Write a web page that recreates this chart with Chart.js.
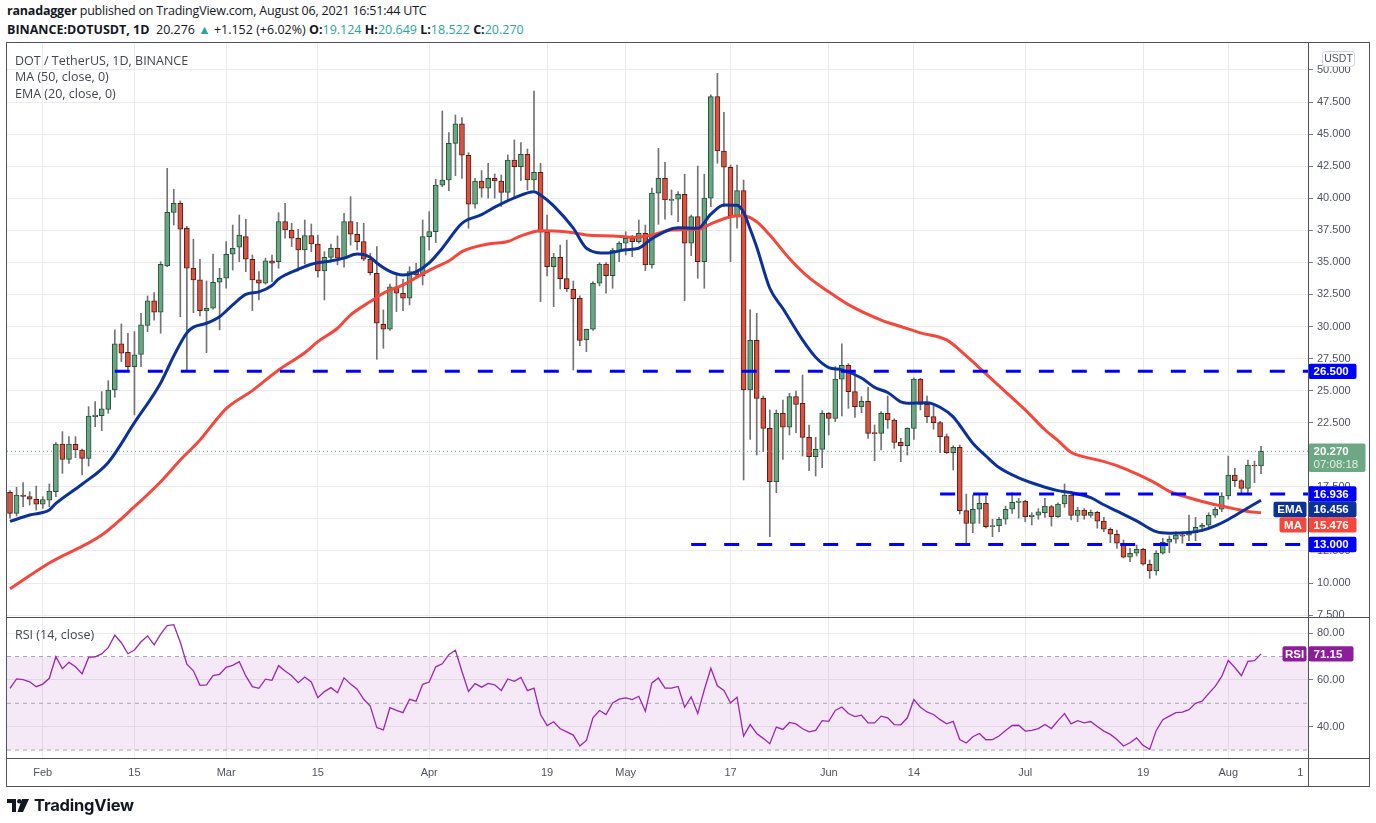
<!DOCTYPE html>
<html>
<head>
<meta charset="utf-8">
<script src="https://cdn.jsdelivr.net/npm/chart.js@4.4.0/dist/chart.umd.min.js"></script>
<style>
html,body{margin:0;padding:0;background:#fff;width:1376px;height:823px;overflow:hidden;}
body{position:relative;font-family:"Open Sans","Noto Sans",sans-serif;color:#131722;}
.abs{position:absolute;}
#hdr1{left:7px;top:2px;font-size:12.5px;white-space:nowrap;letter-spacing:-0.2px;}
#hdr2{left:7px;top:21px;font-size:12.5px;white-space:nowrap;}
.g{color:#26a69a;}
.leg{position:absolute;left:15px;font-size:12.5px;color:#434651;white-space:nowrap;z-index:3;}
.ln{position:absolute;background:#50535e;z-index:2;}
#c1{position:absolute;left:0;top:0;}
#c2{position:absolute;left:0;top:617px;}
#logo{left:7px;top:795px;display:flex;align-items:center;}
#logo span{font-family:"Inter","Noto Sans",sans-serif;font-weight:700;font-size:16.5px;color:#131722;margin-left:5px;letter-spacing:-0.2px;}
</style>
</head>
<body>
<div id="hdr1" class="abs"><b>ranadagger</b> published on TradingView.com, August 06, 2021 16:51:44 UTC</div>
<div id="hdr2" class="abs"><b>BINANCE:DOTUSDT, 1D</b>&nbsp; 20.276 <span class="g">▲</span> +1.152 (+6.02%) <b>O:</b><span class="g">19.124</span> <b>H:</b><span class="g">20.649</span> <b>L:</b><span class="g">18.522</span> <b>C:</b><span class="g">20.270</span></div>

<canvas id="c1" width="1376" height="618"></canvas>
<canvas id="c2" width="1376" height="206"></canvas>

<div class="leg" style="top:52px;">DOT / TetherUS, 1D, BINANCE</div>
<div class="leg" style="top:68px;">MA (50, close, 0)</div>
<div class="leg" style="top:85px;">EMA (20, close, 0)</div>
<div class="leg" style="top:626px;">RSI (14, close)</div>

<div class="ln" style="left:6px;top:42px;width:1364px;height:1px;"></div>
<div class="ln" style="left:6px;top:786px;width:1364px;height:1px;"></div>
<div class="ln" style="left:6px;top:42px;width:1px;height:745px;"></div>
<div class="ln" style="left:1369px;top:42px;width:1px;height:745px;"></div>
<div class="ln" style="left:1308px;top:42px;width:1px;height:745px;"></div>
<div class="ln" style="left:6px;top:617px;width:1364px;height:1px;"></div>
<div class="ln" style="left:6px;top:758px;width:1364px;height:1px;"></div>

<div id="logo" class="abs">
<svg width="22" height="15" viewBox="0 0 22 15"><rect x="0" y="1" width="9" height="4" fill="#131722"/><rect x="5" y="1" width="4" height="13" fill="#131722"/><circle cx="12.3" cy="3.2" r="2.2" fill="#131722"/><polygon points="15,1 22,1 16,14 10.5,14" fill="#131722"/></svg>
<span>TradingView</span>
</div>

<script>
// ---------------- DATA (daily candles from 2021-01-27, index 0 .. 191 = 2021-08-06) ----------------
const firstDay = '2021-01-27';
const openP = [17.07,15.43,16.86,16.73,16.53,16.14,16.45,17.12,20.84,19.64,
20.82,20.37,19.72,22.97,23.05,23.54,25.05,28.64,27.99,26.87,
27.83,30.09,31.99,31.11,34.72,38.90,39.60,37.66,34.54,33.63,
31.21,31.42,33.45,33.76,35.63,36.18,37.00,35.24,33.63,33.37,
35.11,35.05,38.17,37.52,36.88,35.96,37.08,36.43,34.33,35.39,
36.10,35.32,38.17,37.19,36.62,35.24,34.15,30.17,29.78,33.10,
32.59,32.20,34.27,33.96,37.00,37.39,41.01,41.42,44.28,45.79,
43.35,39.53,41.34,40.78,41.55,41.34,40.46,42.98,42.46,43.43,
41.42,42.02,37.35,34.66,35.39,33.73,32.90,32.20,28.95,29.78,
33.37,34.87,33.96,35.91,36.49,36.88,36.62,37.27,34.80,40.39,
41.55,39.82,39.92,40.31,36.49,38.56,35.05,40.00,47.92,43.68,
42.41,38.64,40.59,25.05,28.92,24.40,22.06,17.90,23.23,22.14,
24.53,24.01,21.36,19.85,20.42,23.23,22.84,25.89,26.98,24.92,
23.75,24.17,21.70,21.67,23.23,22.71,20.97,20.71,22.06,25.89,
23.93,22.97,22.50,21.41,20.16,20.58,15.64,14.65,15.75,16.22,
14.39,14.47,14.97,15.75,16.29,16.39,15.18,15.28,15.48,15.95,
15.18,16.16,16.86,15.26,15.69,15.26,15.51,14.83,14.19,13.80,
13.10,12.01,12.32,12.63,11.46,10.94,12.32,13.18,13.41,13.74,
13.72,13.93,14.35,14.50,15.28,15.75,16.78,18.42,17.98,17.38,
19.20,19.124];
const highP = [17.20,17.46,17.82,17.12,17.56,16.73,17.72,20.94,21.80,21.41,
21.41,20.45,23.75,24.14,24.92,25.77,29.73,30.20,29.47,29.60,
31.03,32.38,32.64,35.05,42.33,40.70,39.79,37.80,36.80,35.24,
33.55,35.65,34.54,36.62,37.91,38.69,38.36,35.57,34.27,35.32,
35.57,38.87,39.60,38.04,37.58,38.30,37.99,37.13,35.83,36.43,
37.06,38.82,40.12,38.12,38.04,35.70,36.23,31.29,33.30,34.02,
33.68,34.66,34.93,38.30,38.95,41.48,46.80,45.11,46.49,46.28,
43.55,41.55,42.15,42.72,41.89,41.81,43.37,44.54,44.33,43.84,
48.36,42.72,38.69,35.70,36.35,36.74,33.55,32.38,29.80,33.50,
34.98,34.98,36.10,36.62,37.39,37.10,38.30,37.91,40.78,43.89,
42.80,40.64,40.51,41.87,38.69,42.51,41.87,48.05,49.74,46.70,
42.59,42.59,41.42,31.29,31.03,24.58,23.49,23.49,24.27,24.79,
24.97,26.22,22.32,21.36,23.43,23.30,26.87,28.64,27.10,26.40,
24.53,25.26,22.32,23.36,24.58,22.80,21.28,22.10,26.00,25.96,
24.58,24.01,22.60,21.62,20.70,20.76,16.94,16.86,16.86,16.78,
14.97,15.12,16.00,17.04,16.60,16.45,15.48,15.80,16.60,16.05,
16.25,17.72,16.95,15.90,15.80,15.69,15.60,15.12,14.30,14.13,
13.35,12.70,12.96,12.70,11.79,12.52,13.49,13.67,14.00,14.00,
15.30,15.12,14.65,15.48,15.90,17.04,19.90,18.94,18.05,19.59,
19.51,20.649];
const lowP = [15.05,15.22,15.95,16.08,15.69,15.82,15.95,16.73,18.55,19.33,
19.77,18.42,19.12,22.19,21.88,23.23,24.48,27.26,26.48,23.10,
26.87,29.60,30.50,29.47,34.66,37.91,30.76,26.60,31.07,30.82,
27.96,31.34,29.73,32.98,34.40,35.05,34.27,31.24,32.07,33.30,
33.50,34.54,36.88,36.23,34.33,34.87,35.83,33.84,32.07,35.18,
34.80,34.62,36.35,35.96,35.13,34.02,27.44,28.30,29.70,31.16,
31.24,31.68,33.80,33.24,35.96,36.54,40.90,40.59,41.76,41.55,
37.66,39.22,40.07,40.00,40.00,39.35,39.81,40.00,41.37,40.64,
40.64,31.94,33.94,31.55,32.92,32.71,26.61,28.50,28.04,29.70,
33.16,32.59,32.98,35.05,35.57,35.44,36.49,34.35,34.54,37.97,
38.36,38.69,38.17,32.02,35.52,33.76,32.98,39.34,42.72,39.34,
35.05,37.66,18.03,21.20,19.98,20.24,13.61,17.04,19.64,21.54,
21.72,19.90,18.76,18.34,18.99,21.54,22.58,23.02,23.62,22.90,
23.28,21.28,19.54,20.37,22.06,20.50,19.46,19.98,21.20,23.49,
22.50,21.99,20.16,20.10,18.81,15.38,12.96,13.93,14.65,14.30,
13.61,14.00,14.58,15.43,15.05,14.79,14.52,14.97,15.12,14.44,
15.12,15.90,14.91,14.79,14.97,15.12,14.27,14.00,13.15,12.70,
11.95,11.66,12.11,11.40,10.36,10.62,12.25,12.37,13.10,13.10,
13.30,13.30,14.00,14.39,15.12,15.56,16.53,17.51,17.00,17.00,
17.82,18.522];
const closeP = [15.43,16.86,16.75,16.53,16.14,16.50,17.17,20.84,19.64,20.84,
20.37,19.72,23.02,23.10,23.57,25.05,28.64,27.91,26.87,27.78,
30.12,31.99,31.11,34.85,38.90,39.60,37.58,34.54,33.63,31.24,
31.42,33.45,33.76,35.63,36.10,37.13,35.24,33.63,33.37,35.11,
34.93,38.17,37.52,36.88,35.96,37.08,36.43,34.33,35.39,36.10,
35.32,38.17,37.19,36.62,35.24,34.20,30.25,29.78,33.10,32.59,
32.20,34.27,34.02,37.00,37.39,41.03,41.42,44.28,45.79,43.35,
39.53,41.34,40.78,41.55,41.34,40.46,42.98,42.46,43.43,41.42,
42.02,37.35,34.66,35.39,33.73,32.95,32.17,28.92,29.78,33.37,
34.87,33.96,35.96,36.49,36.88,36.62,37.27,34.80,40.39,41.55,
39.86,39.92,40.31,36.49,38.56,35.05,40.00,47.92,43.68,42.41,
38.64,40.59,25.05,28.92,24.40,22.06,17.90,23.23,22.14,24.53,
23.93,21.36,19.85,20.42,23.23,22.84,25.89,26.98,24.92,23.75,
24.17,21.67,21.65,23.23,22.71,20.97,20.71,22.06,25.89,23.93,
22.97,22.50,21.41,20.16,20.58,15.64,14.65,15.75,16.22,14.39,
14.47,14.97,15.75,16.29,16.39,15.18,15.28,15.54,16.00,15.18,
16.16,16.86,15.26,15.69,15.26,15.51,14.83,14.19,13.80,13.10,
12.01,12.32,12.63,11.46,10.94,12.32,13.18,13.41,13.74,13.66,
13.93,14.35,14.50,15.28,15.75,16.78,18.42,17.98,17.38,19.20,
19.124,20.270];

// EMA(20) at these day indices
const emaDays = [0,3,6,7,11,15,19,23,25,27,28,30,32,34,36,38,40,41,44,46,
49,51,53,55,56,58,60,62,64,66,69,72,74,77,80,81,83,86,88,91,
94,96,98,102,105,107,109,111,112,113,114,116,118,121,123,125,127,130,132,134,
136,137,140,142,144,145,147,149,151,154,157,160,162,165,167,169,172,175,177,180,
182,184,186,188,191];
const emaValues = [14.8,15.3,15.69,16.2,17.7,19.4,22.5,25.6,27.7,29.5,29.95,30.25,30.76,31.68,32.5,32.7,33.2,33.7,34.45,34.85,
35.11,35.33,35.65,35.4,34.95,34.3,34.02,34.25,34.95,36.1,38.04,38.72,39.3,40.03,40.51,40.25,39.4,37.66,36.1,35.72,
35.98,36.1,36.85,37.7,37.65,38.75,39.47,39.45,38.9,37.6,36.2,32.98,31.4,28.95,27.6,26.8,26.62,25.98,25.25,24.85,
24.12,24.02,24.05,23.7,22.95,22.3,20.9,19.9,19.0,18.2,17.64,17.2,17.05,16.65,16.1,15.6,14.85,14.0,13.88,13.93,
14.1,14.45,14.95,15.55,16.456];

// MA(50) at these day indices
const maDays = [0,6,14,19,23,26,29,33,37,41,45,47,50,52,55,57,60,63,65,67,
69,73,76,78,81,83,86,88,92,95,98,101,105,107,110,112,114,116,119,122,
125,128,133,136,139,143,146,149,152,155,158,160,162,164,166,169,172,175,177,180,
182,185,187,189,191];
const maValues = [9.55,11.56,13.74,15.95,17.9,19.59,21.15,23.6,25.0,26.61,27.95,28.82,29.86,30.9,31.94,32.59,33.24,34.1,34.62,35.1,
35.83,36.43,36.62,37.06,37.47,37.44,37.31,37.13,37.06,36.95,37.13,37.52,37.58,38.0,38.56,38.64,38.17,37.13,35.3,33.8,
32.7,31.7,30.5,30.0,29.5,28.95,27.7,26.3,24.9,23.5,21.95,21.1,20.2,19.83,19.6,19.15,18.5,17.75,17.15,16.65,
16.36,16.0,15.78,15.58,15.476];

// RSI(14), one value per candle
const rsiValues = [56.4,60.4,60.1,59.2,57.1,58.2,60.7,69.9,64.8,67.5,
65.6,62.6,69.6,69.9,71.1,73.8,79.1,75.9,71.2,72.8,
76.3,78.8,75.0,79.6,83.2,83.6,76.1,66.7,63.9,57.7,
57.9,61.8,62.4,65.4,66.2,67.8,61.7,57.1,56.4,60.3,
59.8,66.1,63.8,61.8,58.8,61.2,59.1,52.4,55.0,56.7,
54.5,60.9,58.2,56.0,51.7,48.8,39.6,38.6,48.1,47.0,
46.0,51.7,50.9,58.1,59.1,65.6,66.9,70.8,72.7,63.6,
55.1,58.4,56.9,58.5,57.9,55.5,60.4,59.4,61.1,55.4,
56.5,45.2,40.5,42.1,39.1,37.8,36.4,31.7,34.1,43.8,
46.9,45.2,50.1,51.8,52.3,51.6,53.0,46.6,58.7,60.8,
56.5,56.5,57.2,48.3,52.7,45.6,55.8,65.0,57.5,55.5,
50.1,52.6,36.0,40.9,37.1,35.0,32.7,39.8,38.8,41.8,
41.2,39.1,37.8,38.4,42.6,42.3,46.9,48.4,45.6,44.3,
44.9,41.6,41.6,44.5,43.8,40.9,40.8,43.8,51.6,48.3,
46.3,45.2,43.0,41.2,42.3,34.5,33.0,35.7,37.1,34.4,
34.5,36.0,38.4,40.5,40.6,38.1,38.4,39.2,40.9,39.2,
42.6,45.6,41.2,42.6,41.6,42.2,40.1,38.1,36.7,34.5,
31.7,33.1,35.2,32.0,30.3,38.4,43.0,44.5,46.0,46.2,
47.3,50.0,50.9,54.1,57.2,61.5,68.3,65.3,61.8,67.9,
68.2,71.15];

// horizontal support / resistance rays
const levelValues = [26.5, 16.936, 13.0];
const levelStartDays = [16, 142, 104];

// axis ticks
const priceTicks = [7.5,10,12.5,15,17.5,20,22.5,25,27.5,30,32.5,35,37.5,40,42.5,45,47.5,50];
const rsiTicks = [40,60,80];
const rsiGuides = [70,50,30];
const timeTickDays = [5,19,33,47,64,82,94,110,125,138,155,173,186,197];
const timeTickLabels = ['Feb','15','Mar','15','Apr','19','May','17','Jun','14','Jul','19','Aug','1'];
const countdownText = '07:08:18';

// ---------------- STYLE ----------------
const UP_FILL = '#6ba583', UP_BORDER = '#225437';
const DN_FILL = '#d75442', DN_BORDER = '#5b1a13';
const WICK = '#737375';
const EMA_C = '#0c3299', MA_C = '#f5473b', LEVEL_C = '#0000ff';
const RSI_C = '#9c27b0', RSI_BAND = 'rgba(156,39,176,0.10)', RSI_TAG = '#8e1d9b';
const GRID = '#ebebeb', TXT = '#50535e';
const FONT = "'Liberation Sans', Arial, sans-serif";
const X_MIN = -0.46, X_MAX = 198.17;

Chart.defaults.font.family = FONT;
Chart.defaults.font.size = 11;
Chart.defaults.color = TXT;

const N = closeP.length;
const last = N - 1;
const bodyData = [], wickData = [], bodyFill = [], bodyBorder = [];
for (let i = 0; i < N; i++) {
  bodyData.push({x: i, y: [openP[i], closeP[i]]});
  wickData.push({x: i, y: [lowP[i], highP[i]]});
  const up = closeP[i] >= openP[i];
  bodyFill.push(up ? UP_FILL : DN_FILL);
  bodyBorder.push(up ? UP_BORDER : DN_BORDER);
}
const emaPts = emaDays.map((d, k) => ({x: d, y: emaValues[k]}));
const maPts = maDays.map((d, k) => ({x: d, y: maValues[k]}));
const rsiPts = rsiValues.map((v, i) => ({x: i, y: v}));

const levelSets = levelValues.map((v, k) => ({
  type: 'line', data: [{x: levelStartDays[k], y: v}, {x: X_MAX, y: v}],
  borderColor: LEVEL_C, borderWidth: 3, borderDash: [15, 18], pointRadius: 0, order: 0
}));

function rrect(ctx, x, y, w, h, r, fill, stroke) {
  ctx.beginPath();
  ctx.roundRect(x, y, w, h, r);
  ctx.fillStyle = fill; ctx.fill();
  if (stroke) { ctx.strokeStyle = stroke; ctx.lineWidth = 1; ctx.stroke(); }
}

const mainBoxes = {
  id: 'mainBoxes',
  afterDraw(chart) {
    const {ctx, chartArea: ca, scales: {y}} = chart;
    const L = ca.right + 0.5, W = 47, H = 15.4;
    ctx.save();
    ctx.textBaseline = 'middle';
    // USDT unit box
    rrect(ctx, 1322.5, 51.5, 32, 15, 3, '#ffffff', '#d1d4dc');
    ctx.fillStyle = TXT; ctx.font = '10.5px ' + FONT; ctx.textAlign = 'center';
    ctx.fillText('USDT', 1338.5, 59.5);

    // last price box with countdown
    const yp = y.getPixelForValue(closeP[last]);
    rrect(ctx, L, yp - H / 2, 57, H * 1.85, 2, '#6ca884');
    ctx.textAlign = 'left';
    ctx.font = 'bold 11.5px ' + FONT; ctx.fillStyle = '#ffffff';
    ctx.fillText(closeP[last].toFixed(3), L + 5, yp + 0.5);
    ctx.font = '11.5px ' + FONT; ctx.fillStyle = 'rgba(255,255,255,0.8)';
    ctx.fillText(countdownText, L + 5, yp + 13.5);

    // level + indicator boxes with collision push-down
    const items = [
      {v: levelValues[0], txt: levelValues[0].toFixed(3), c: LEVEL_C},
      {v: levelValues[1], txt: levelValues[1].toFixed(3), c: LEVEL_C},
      {v: emaValues[emaValues.length - 1], txt: emaValues[emaValues.length - 1].toFixed(3), c: EMA_C, tag: 'EMA', tw: 33},
      {v: maValues[maValues.length - 1], txt: maValues[maValues.length - 1].toFixed(3), c: MA_C, tag: 'MA', tw: 27},
      {v: levelValues[2], txt: levelValues[2].toFixed(3), c: LEVEL_C}
    ];
    items.forEach(it => it.py = y.getPixelForValue(it.v));
    items.sort((a, b) => a.py - b.py);
    for (let k = 1; k < items.length; k++) {
      if (items[k].py < items[k - 1].py + H) items[k].py = items[k - 1].py + H;
    }
    items.forEach(it => {
      const top = it.py - H / 2;
      rrect(ctx, L, top, W + 1, H, 2, it.c);
      if (it.tag) rrect(ctx, L - it.tw - 2, top, it.tw, H, 2, it.c);
      ctx.fillStyle = '#ffffff'; ctx.font = 'bold 11.5px ' + FONT;
      ctx.textAlign = 'left'; ctx.fillText(it.txt, L + 5, it.py + 0.5);
      if (it.tag) { ctx.textAlign = 'center'; ctx.fillText(it.tag, L - 2 - it.tw / 2, it.py + 0.5); }
    });
    ctx.restore();
  }
};

const rsiBoxes = {
  id: 'rsiBoxes',
  afterDraw(chart) {
    const {ctx, chartArea: ca, scales: {y}} = chart;
    const L = ca.right + 0.5, H = 15.4;
    const v = rsiValues[last];
    const py = y.getPixelForValue(v);
    ctx.save();
    rrect(ctx, L, py - H / 2, 45, H, 2, RSI_TAG);
    rrect(ctx, L - 26, py - H / 2, 24, H, 2, RSI_TAG);
    ctx.fillStyle = '#ffffff'; ctx.font = 'bold 11.5px ' + FONT; ctx.textBaseline = 'middle';
    ctx.textAlign = 'left'; ctx.fillText(v.toFixed(2), L + 5, py + 0.5);
    ctx.textAlign = 'center'; ctx.fillText('RSI', L - 14, py + 0.5);
    ctx.restore();
  }
};

const xTicksBuild = s => { s.ticks = timeTickDays.map(v => ({value: v})); };
const gridColorX = c => (c.tick && c.tick.value === timeTickDays[timeTickDays.length - 1]) ? 'rgba(0,0,0,0)' : GRID;

new Chart(document.getElementById('c1'), {
  type: 'bar',
  data: {
    datasets: [
      {type: 'line', data: emaPts, borderColor: EMA_C, borderWidth: 3, pointRadius: 0, cubicInterpolationMode: 'monotone', order: 1},
      {type: 'line', data: maPts, borderColor: MA_C, borderWidth: 3, pointRadius: 0, cubicInterpolationMode: 'monotone', order: 1},
      ...levelSets,
      {type: 'line', data: [{x: X_MIN, y: closeP[last]}, {x: X_MAX, y: closeP[last]}], borderColor: UP_FILL, borderWidth: 1, borderDash: [1, 3], pointRadius: 0, order: 2},
      {type: 'bar', data: bodyData, backgroundColor: bodyFill, borderColor: bodyBorder, borderWidth: 1, borderSkipped: false, barThickness: 5, minBarLength: 1, grouped: false, order: 5},
      {type: 'bar', data: wickData, backgroundColor: WICK, borderWidth: 0, barThickness: 1, grouped: false, order: 6}
    ]
  },
  options: {
    responsive: false, animation: false, events: [],
    layout: {padding: {left: 7, top: 43, right: 7, bottom: 1}},
    plugins: {legend: {display: false}, tooltip: {enabled: false}},
    scales: {
      x: {
        type: 'linear', min: X_MIN, max: X_MAX, offset: false,
        grid: {color: gridColorX, offset: false, drawTicks: false},
        border: {display: false},
        ticks: {display: false},
        afterBuildTicks: xTicksBuild,
        afterFit: s => { s.height = 0; s.paddingLeft = 0; s.paddingRight = 0; }
      },
      y: {
        type: 'linear', position: 'right', min: 7.35, max: 52.1, beginAtZero: false,
        grid: {color: GRID, tickColor: '#787b86', tickLength: 5},
        border: {display: false},
        ticks: {color: TXT, padding: 4, callback: v => Number(v).toFixed(3)},
        afterBuildTicks: s => { s.ticks = priceTicks.map(v => ({value: v})); },
        afterFit: s => { s.width = 61; s.paddingTop = 0; s.paddingBottom = 0; }
      }
    }
  },
  plugins: [mainBoxes]
});

new Chart(document.getElementById('c2'), {
  type: 'line',
  data: {
    datasets: [
      {data: rsiPts, borderColor: RSI_C, borderWidth: 1.3, pointRadius: 0, order: 0},
      ...rsiGuides.map((g, k) => ({
        data: [{x: X_MIN, y: g}, {x: X_MAX, y: g}], borderColor: '#a3a6af', borderWidth: 1, borderDash: [4, 4],
        pointRadius: 0, order: 1,
        fill: k === rsiGuides.length - 1 ? 1 : false, backgroundColor: RSI_BAND
      }))
    ]
  },
  options: {
    responsive: false, animation: false, events: [],
    layout: {padding: {left: 7, top: 0, right: 7, bottom: 37}},
    plugins: {legend: {display: false}, tooltip: {enabled: false}},
    scales: {
      x: {
        type: 'linear', min: X_MIN, max: X_MAX, offset: false,
        grid: {color: gridColorX, drawTicks: false},
        border: {display: false},
        ticks: {color: TXT, padding: 8, maxRotation: 0, autoSkip: false,
          callback: v => { const k = timeTickDays.indexOf(v); return k >= 0 ? timeTickLabels[k] : ''; }},
        afterBuildTicks: xTicksBuild,
        afterFit: s => { s.height = 28; s.paddingLeft = 0; s.paddingRight = 0; }
      },
      y: {
        type: 'linear', position: 'right', min: 26.6, max: 86.9,
        grid: {color: GRID, tickColor: '#787b86', tickLength: 5},
        border: {display: false},
        ticks: {color: TXT, padding: 4, callback: v => Number(v).toFixed(2)},
        afterBuildTicks: s => { s.ticks = rsiTicks.map(v => ({value: v})); },
        afterFit: s => { s.width = 61; s.paddingTop = 0; s.paddingBottom = 0; }
      }
    }
  },
  plugins: [rsiBoxes]
});
</script>
</body>
</html>
